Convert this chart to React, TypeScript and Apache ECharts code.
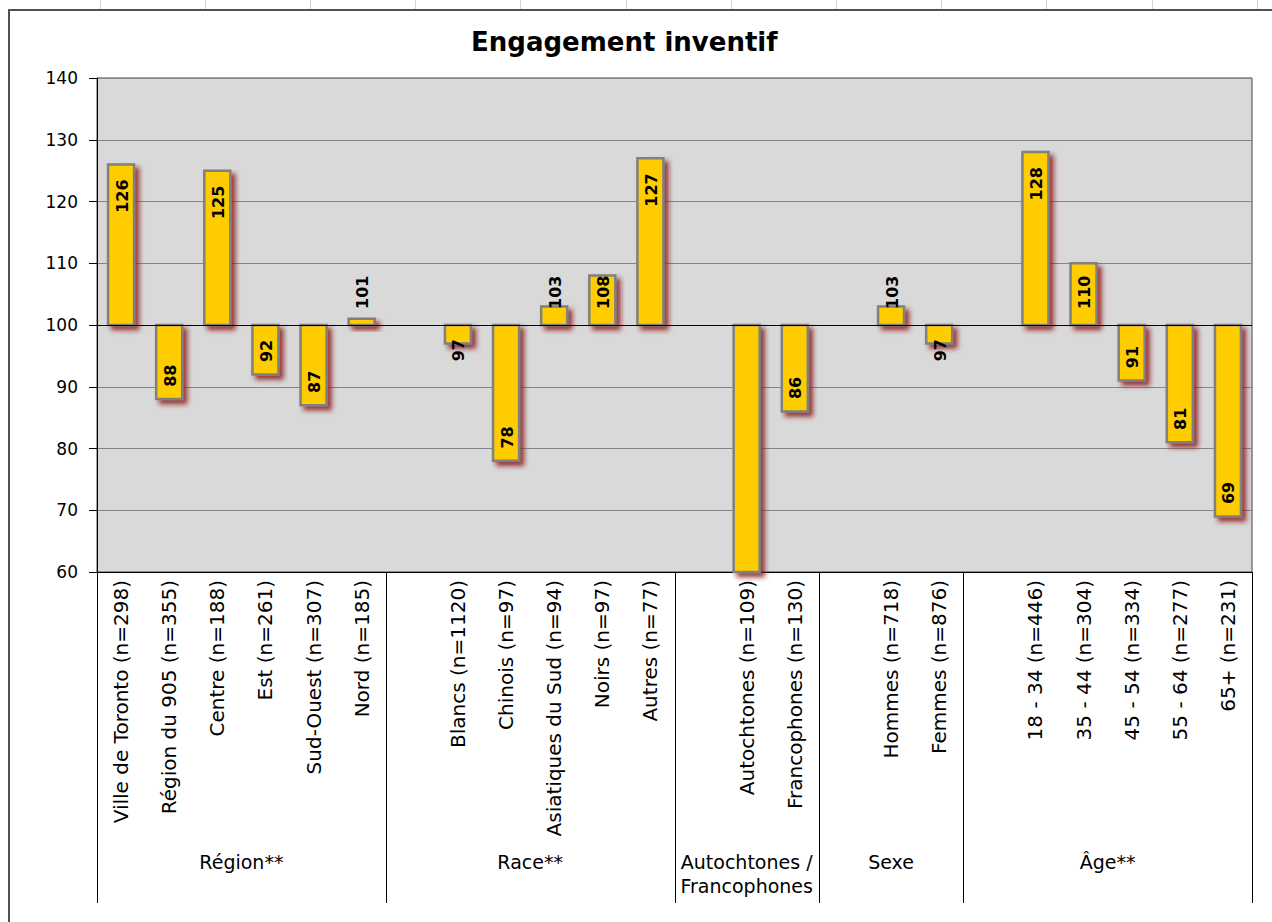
import React, { useEffect, useRef } from "react";
import * as echarts from "echarts";

const categories = [
  "Ville de Toronto (n=298)",
  "Région du 905 (n=355)",
  "Centre (n=188)",
  "Est (n=261)",
  "Sud-Ouest (n=307)",
  "Nord (n=185)",
  "",
  "Blancs (n=1120)",
  "Chinois (n=97)",
  "Asiatiques du Sud (n=94)",
  "Noirs (n=97)",
  "Autres (n=77)",
  "",
  "Autochtones (n=109)",
  "Francophones (n=130)",
  "",
  "Hommes (n=718)",
  "Femmes (n=876)",
  "",
  "18 - 34 (n=446)",
  "35 - 44 (n=304)",
  "45 - 54 (n=334)",
  "55 - 64 (n=277)",
  "65+ (n=231)",
];

const values: (number | null)[] = [
  126, 88, 125, 92, 87, 101, null,
  97, 78, 103, 108, 127, null,
  55, 86, null,
  103, 97, null,
  128, 110, 91, 81, 69,
];

const groupNames = ["Région**", "Race**", "Autochtones /\nFrancophones", "Sexe", "Âge**"];
const groupStarts = [0, 6, 12, 15, 18];

const yMin = 60;
const yMax = 140;
const yStep = 10;
const baseline = 100;
const title = "Engagement inventif";

const W = 1272;
const H = 922;
const GRID = { left: 97, top: 78, right: 20, bottom: 350 };
const FONT = "DejaVu Sans";

export default function App() {
  const ref = useRef<HTMLDivElement>(null);

  useEffect(() => {
    const chart = echarts.init(ref.current!, null, { renderer: "svg" });
    const gridW = W - GRID.left - GRID.right;
    const slot = gridW / categories.length;
    const axisY = H - GRID.bottom;

    const graphics: any[] = [];
    for (let k = 0; k < 12; k++) {
      const x = Math.round(99.5 + 105.2 * k) + 0.5;
      graphics.push({
        type: "line",
        shape: { x1: x, y1: 0, x2: x, y2: 10 },
        style: { stroke: "#d4d4d4", lineWidth: 1 },
        silent: true,
      });
    }
    graphics.push({
      type: "line",
      shape: { x1: 8, y1: 10, x2: W, y2: 10 },
      style: { stroke: "#505050", lineWidth: 2 },
      silent: true,
    });
    graphics.push({
      type: "line",
      shape: { x1: 9, y1: 10, x2: 9, y2: H },
      style: { stroke: "#505050", lineWidth: 2 },
      silent: true,
    });
    [...groupStarts, categories.length].forEach((s) => {
      const x = Math.round(GRID.left + s * slot) + 0.5;
      graphics.push({
        type: "line",
        shape: { x1: x, y1: axisY, x2: x, y2: 903 },
        style: { stroke: "#000", lineWidth: 1 },
        silent: true,
      });
    });
    groupNames.forEach((g, i) => {
      const s = groupStarts[i];
      const e = i + 1 < groupStarts.length ? groupStarts[i + 1] : categories.length;
      graphics.push({
        type: "text",
        x: GRID.left + ((s + e) / 2) * slot,
        y: 850,
        style: {
          text: g,
          fontSize: 19,
          fontFamily: FONT,
          fill: "#000",
          align: "center",
          textAlign: "center",
          verticalAlign: "top",
          textVerticalAlign: "top",
          lineHeight: 24,
        },
        silent: true,
      });
    });

    const data = values
      .map((v, i) => (v == null ? null : [i, v]))
      .filter((d) => d != null);

    const option: any = {
      animation: false,
      backgroundColor: "#fff",
      title: {
        text: title,
        left: 466,
        top: 24,
        textStyle: { fontSize: 26, fontWeight: "bold", fontFamily: FONT, color: "#000" },
      },
      grid: {
        left: GRID.left,
        top: GRID.top,
        right: GRID.right,
        bottom: GRID.bottom,
        show: true,
        backgroundColor: "#d9d9d9",
        borderColor: "#404040",
        borderWidth: 1,
      },
      xAxis: {
        type: "category",
        data: categories,
        axisLine: { show: true, lineStyle: { color: "#000", width: 1 } },
        axisTick: { show: false },
        axisLabel: {
          interval: 0,
          rotate: 90,
          margin: 8,
          fontSize: 20,
          fontFamily: FONT,
          color: "#000",
        },
        splitLine: { show: false },
      },
      yAxis: {
        type: "value",
        min: yMin,
        max: yMax,
        interval: yStep,
        axisLine: { show: true, lineStyle: { color: "#000", width: 1 } },
        axisTick: { show: true, inside: false, length: 8, lineStyle: { color: "#000" } },
        axisLabel: { margin: 19, fontSize: 17, fontFamily: FONT, color: "#000" },
        splitLine: { show: true, lineStyle: { color: "#868686", width: 1 } },
      },
      graphic: graphics,
      series: [
        {
          type: "custom",
          data,
          encode: { x: 0, y: 1 },
          renderItem: (params: any, api: any) => {
            const idx = api.value(0);
            const v = api.value(1);
            const cs = params.coordSys;
            const pBase = api.coord([idx, baseline]);
            const pEnd = api.coord([idx, v]);
            const w = 26;
            const x = pBase[0] - w / 2;
            const top = Math.max(Math.min(pBase[1], pEnd[1]), cs.y);
            const bot = Math.min(Math.max(pBase[1], pEnd[1]), cs.y + cs.height);
            const children: any[] = [
              {
                type: "rect",
                shape: { x, y: top, width: w, height: bot - top },
                style: {
                  fill: "#ffcc00",
                  stroke: "#808080",
                  lineWidth: 2.5,
                  shadowBlur: 5,
                  shadowColor: "rgba(140,20,20,0.85)",
                  shadowOffsetX: 4,
                  shadowOffsetY: 4,
                },
              },
            ];
            const endInside = pEnd[1] >= cs.y && pEnd[1] <= cs.y + cs.height;
            if (endInside) {
              const txt = String(v);
              const len = txt.length * 10.8;
              let labelTop: number;
              if (v >= baseline) {
                const labelBottom = Math.min(pEnd[1] + 15 + len, pBase[1] - 17);
                labelTop = labelBottom - len;
              } else {
                labelTop = Math.max(pEnd[1] - 13 - len, pBase[1] + 14);
              }
              children.push({
                type: "text",
                x: pBase[0] + 1,
                y: labelTop,
                rotation: Math.PI / 2,
                style: {
                  text: txt,
                  fill: "#000",
                  fontSize: 16,
                  fontWeight: "bold",
                  fontFamily: FONT,
                  align: "right",
                  verticalAlign: "middle",
                },
              });
            }
            return { type: "group", children };
          },
          markLine: {
            silent: true,
            symbol: "none",
            label: { show: false },
            lineStyle: { color: "#000", width: 1, type: "solid" },
            data: [{ yAxis: baseline }],
          },
          z: 3,
        },
      ],
    };

    chart.setOption(option);
    return () => chart.dispose();
  }, []);

  return (
    <div
      ref={ref}
      style={{ position: "fixed", left: 0, top: 0, width: W, height: H, background: "#fff" }}
    />
  );
}
